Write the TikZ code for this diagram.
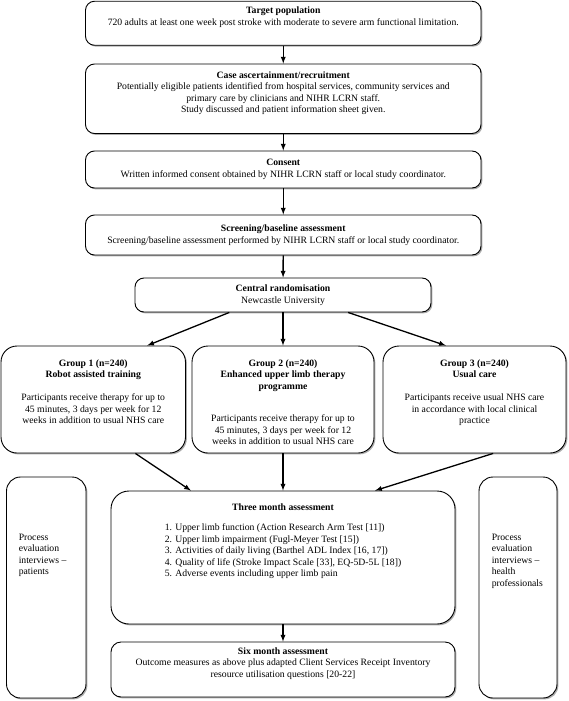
\documentclass[tikz,border=0pt]{standalone}
\usepackage{fontspec}
\setmainfont{Liberation Serif}
\usetikzlibrary{shapes,arrows,positioning,shadows}

\tikzset{
  box/.style={draw,fill=white,rounded corners=9pt,line width=0.9pt,align=center,inner sep=0pt,
    drop shadow={shadow xshift=1.4pt,shadow yshift=-1.4pt,fill=black!65}},
  bigbox/.style={box,rounded corners=16pt},
  boxtext/.style={align=center,inner sep=0pt},
  flow/.style={-latex,line width=1.3pt}
}

\begin{document}
\begin{tikzpicture}[x=1pt,y=-1pt,font=\fontsize{9.7}{11.5}\selectfont]
\useasboundingbox (0,0) rectangle (568,701);

\node[box,minimum width=395.5pt,minimum height=44pt](target) at (283.25,23.25)
  {\textbf{Target population}\\720 adults at least one week post stroke with moderate to severe arm functional limitation.\\[3pt]};
\node[box,minimum width=395.5pt,minimum height=69.5pt](case) at (283.25,98.75)
  {\textbf{Case ascertainment/recruitment}\\Potentially eligible patients identified from hospital services, community services and\\primary care by clinicians and NIHR LCRN staff.\\Study discussed and patient information sheet given.\\[2pt]};
\node[box,minimum width=395.5pt,minimum height=37pt](consent) at (283.25,169.5)
  {\textbf{Consent}\\Written informed consent obtained by NIHR LCRN staff or local study coordinator.};
\node[box,minimum width=395.5pt,minimum height=40pt](screen) at (283.25,235)
  {\textbf{Screening/baseline assessment}\\Screening/baseline assessment performed by NIHR LCRN staff or local study coordinator.};
\node[box,minimum width=296pt,minimum height=34pt](random) at (283,295)
  {\textbf{Central randomisation}\\Newcastle University};

\node[bigbox,minimum width=184.5pt,minimum height=107pt](g1) at (93.25,399.5){};
\node[bigbox,minimum width=182pt,minimum height=107pt](g2) at (283,399.5){};
\node[bigbox,minimum width=183pt,minimum height=107pt](g3) at (474.5,399.5){};
\node[boxtext,below=14pt of g1.north](g1text)
  {\textbf{Group 1 (n=240)}\\\textbf{Robot assisted training}\\[11.5pt]Participants receive therapy for up to\\45 minutes, 3 days per week for 12\\weeks in addition to usual NHS care};
\node[boxtext,below=14pt of g2.north](g2text)
  {\textbf{Group 2 (n=240)}\\\textbf{Enhanced upper limb therapy}\\\textbf{programme}\\[21pt]Participants receive therapy for up to\\45 minutes, 3 days per week for 12\\weeks in addition to usual NHS care};
\node[boxtext,below=14pt of g3.north](g3text)
  {\textbf{Group 3 (n=240)}\\\textbf{Usual care}\\[11.5pt]Participants receive usual NHS care\\in accordance with local clinical\\practice};

\node[bigbox,rounded corners=18pt,minimum width=344pt,minimum height=133pt](tmonth) at (283,557.5){};
\node[boxtext,below=13pt of tmonth.north,font=\fontsize{9.7}{11.5}\selectfont\bfseries](tmtitle){Three month assessment};
\node[boxtext,align=left,below=13pt of tmtitle](tmlist)
  {1. Upper limb function (Action Research Arm Test [11])\\
   2. Upper limb impairment (Fugl-Meyer Test [15])\\
   3. Activities of daily living (Barthel ADL Index [16, 17])\\
   4. Quality of life (Stroke Impact Scale [33], EQ-5D-5L [18])\\
   5. Adverse events including upper limb pain};
\node[box,rounded corners=10pt,minimum width=344pt,minimum height=55pt](smonth) at (283,669.5)
  {\textbf{Six month assessment}\\Outcome measures as above plus adapted Client Services Receipt Inventory\\resource utilisation questions [20-22]\\[3pt]};

\node[bigbox,rounded corners=14pt,minimum width=79.5pt,minimum height=221pt](pleft) at (46.25,587.5){};
\node[bigbox,rounded corners=14pt,minimum width=78pt,minimum height=221pt](pright) at (518,587.5){};
\node[boxtext,align=left,anchor=north west](pltext) at ([shift={(12.5pt,-57pt)}]pleft.north west)
  {Process\\evaluation\\interviews --\\patients};
\node[boxtext,align=left,anchor=north west](prtext) at ([shift={(13pt,-57pt)}]pright.north west)
  {Process\\evaluation\\interviews --\\health\\professionals};

\draw[flow](target)--(case);
\draw[flow](case)--(consent);
\draw[flow](consent)--(screen);
\draw[flow](screen)--(random);
\draw[flow](random.198)--(g1.45);
\draw[flow](random)--(g2);
\draw[flow](random.345.8)--(g3.118);
\draw[flow](g1.308.6)--(tmonth.144.7);
\draw[flow](g2)--(tmonth);
\draw[flow](g3.289.1)--(tmonth.36.5);
\draw[flow](tmonth)--(smonth);
\end{tikzpicture}
\end{document}
